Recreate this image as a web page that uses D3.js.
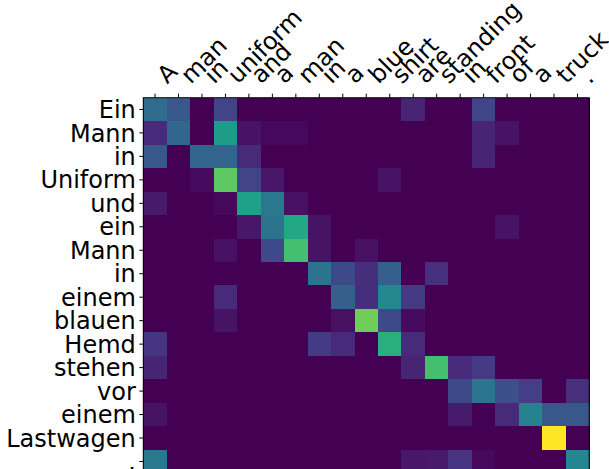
<!DOCTYPE html>
<html>
<head>
<meta charset="utf-8">
<script src="https://cdn.jsdelivr.net/npm/d3@7"></script>
<style>
  body { margin: 0; background: #fff; }
  svg { display: block; font-family: "DejaVu Sans", sans-serif; }
</style>
</head>
<body>
<svg id="chart" width="609" height="469"></svg>
<script>
// Tokens (columns = source, rows = translation)
const srcTokens = ["A", "man", "in", "uniform", "and", "a", "man", "in", "a", "blue",
  "shirt", "are", "standing", "in", "front", "of", "a", "truck", "."];
const tgtTokens = ["Ein", "Mann", "in", "Uniform", "und", "ein", "Mann", "in", "einem",
  "blauen", "Hemd", "stehen", "vor", "einem", "Lastwagen", "."];

// attention weights, one row per German token
const attention = [
  [0.35, 0.27, 0, 0.20, 0, 0, 0, 0, 0, 0, 0, 0.10, 0, 0, 0.20, 0, 0, 0, 0],
  [0.12, 0.33, 0, 0.55, 0.05, 0.02, 0.02, 0, 0, 0, 0, 0, 0, 0, 0.10, 0.05, 0, 0, 0],
  [0.27, 0, 0.32, 0.32, 0.12, 0, 0, 0, 0, 0, 0, 0, 0, 0, 0.10, 0, 0, 0, 0],
  [0, 0, 0.03, 0.75, 0.20, 0.06, 0, 0, 0, 0, 0.05, 0, 0, 0, 0, 0, 0, 0, 0],
  [0.07, 0, 0, 0.02, 0.57, 0.40, 0.04, 0, 0, 0, 0, 0, 0, 0, 0, 0, 0, 0, 0],
  [0, 0, 0, 0, 0.06, 0.38, 0.60, 0.05, 0, 0, 0, 0, 0, 0, 0, 0.05, 0, 0, 0],
  [0, 0, 0, 0.04, 0, 0.22, 0.70, 0.05, 0, 0.04, 0, 0, 0, 0, 0, 0, 0, 0, 0],
  [0, 0, 0, 0, 0, 0, 0, 0.38, 0.22, 0.13, 0.30, 0, 0.14, 0, 0, 0, 0, 0, 0],
  [0, 0, 0, 0.12, 0, 0, 0, 0, 0.30, 0.13, 0.47, 0.17, 0, 0, 0, 0, 0, 0, 0],
  [0, 0, 0, 0.05, 0, 0, 0, 0, 0.04, 0.78, 0.22, 0.03, 0, 0, 0, 0, 0, 0, 0],
  [0.15, 0, 0, 0, 0, 0, 0, 0.17, 0.12, 0, 0.63, 0.12, 0, 0, 0, 0, 0, 0, 0],
  [0.10, 0, 0, 0, 0, 0, 0, 0, 0, 0, 0, 0.10, 0.70, 0.12, 0.17, 0, 0, 0, 0],
  [0, 0, 0, 0, 0, 0, 0, 0, 0, 0, 0, 0, 0, 0.22, 0.39, 0.24, 0.18, 0, 0.14],
  [0.05, 0, 0, 0, 0, 0, 0, 0, 0, 0, 0, 0, 0, 0.07, 0, 0.12, 0.44, 0.27, 0.27],
  [0, 0, 0, 0, 0, 0, 0, 0, 0, 0, 0, 0, 0, 0, 0, 0, 0, 1.00, 0],
  [0.40, 0, 0, 0, 0, 0, 0, 0, 0, 0, 0, 0.06, 0.07, 0.15, 0.02, 0, 0, 0, 0.46]
];

const plotLeft = 143.3, plotTop = 97.7, cell = 23.47;
const fontSize = "24px";

const svg = d3.select("#chart");

const x = d3.scaleBand()
  .domain(d3.range(srcTokens.length))
  .range([plotLeft, plotLeft + cell * srcTokens.length]);
const y = d3.scaleBand()
  .domain(d3.range(tgtTokens.length))
  .range([plotTop, plotTop + cell * tgtTokens.length]);
const color = d3.scaleSequential(d3.interpolateViridis).domain([0, 1]);

// cells
const cells = [];
attention.forEach((row, i) => row.forEach((v, j) => cells.push({ i, j, v })));

svg.append("g")
  .selectAll("rect")
  .data(cells)
  .join("rect")
  .attr("x", d => x(d.j))
  .attr("y", d => y(d.i))
  .attr("width", x.bandwidth() + 0.3)
  .attr("height", y.bandwidth() + 0.3)
  .attr("fill", d => color(d.v))
  .attr("shape-rendering", "crispEdges");

// frame
svg.append("rect")
  .attr("x", plotLeft)
  .attr("y", plotTop)
  .attr("width", cell * srcTokens.length)
  .attr("height", cell * tgtTokens.length)
  .attr("fill", "none")
  .attr("stroke", "#000")
  .attr("stroke-width", 1);

// top axis, labels rotated
const xAxis = svg.append("g")
  .attr("transform", `translate(0,${plotTop})`)
  .call(d3.axisTop(x).tickSize(4).tickSizeOuter(0).tickFormat(i => srcTokens[i]));
xAxis.select(".domain").remove();
xAxis.selectAll("text")
  .attr("x", 0)
  .attr("y", 0)
  .attr("dy", 0)
  .attr("text-anchor", "start")
  .attr("transform", "translate(12.2,-12.9) rotate(-45)")
  .style("font-size", fontSize)
  .style("font-family", "DejaVu Sans")
  .attr("fill", "#000");

// left axis
const yAxis = svg.append("g")
  .attr("transform", `translate(${plotLeft},0)`)
  .call(d3.axisLeft(y).tickSize(4).tickPadding(3.5).tickSizeOuter(0).tickFormat(i => tgtTokens[i]));
yAxis.select(".domain").remove();
yAxis.selectAll("text")
  .attr("dy", "0.36em")
  .style("font-size", fontSize)
  .style("font-family", "DejaVu Sans")
  .attr("fill", "#000");
</script>
</body>
</html>
